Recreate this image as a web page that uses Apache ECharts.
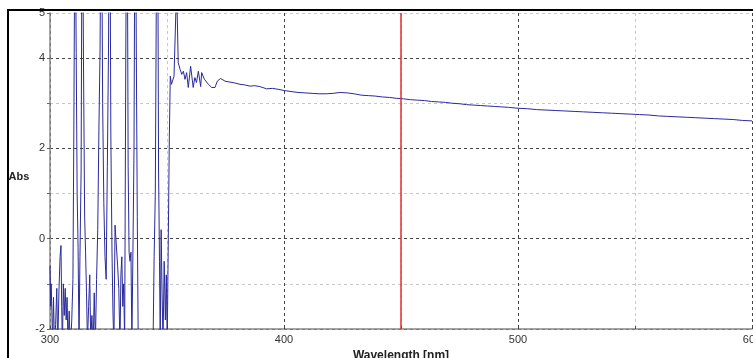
<!DOCTYPE html>
<html>
<head>
<meta charset="utf-8">
<script src="https://cdn.jsdelivr.net/npm/echarts@6/dist/echarts.min.js"></script>
<style>
  html, body { margin: 0; padding: 0; background: #fff; }
  #chart { width: 753px; height: 358px; }
</style>
</head>
<body>
<div id="chart"></div>
<script>
// Zona de ruido (300-351 nm): longitud de onda y absorbancia
const noiseWavelength = [
  300.0, 300.3, 300.5, 300.8, 301.1, 301.5, 301.9, 302.4, 302.9, 303.3,
  303.8, 304.3, 304.7, 305.0, 305.3, 305.7, 306.1, 306.5, 306.9, 307.3,
  307.7, 308.2, 308.7, 309.3, 309.8, 310.2, 310.7, 311.2, 311.6, 312.0,
  312.4, 312.8, 313.3, 313.8, 314.3, 314.8, 315.2, 315.6, 316.0, 316.5,
  317.0, 317.4, 317.9, 318.4, 318.9, 319.4, 319.9, 320.4, 320.9, 321.4,
  321.9, 322.5, 323.0, 323.5, 324.0, 324.5, 325.0, 325.5, 326.0, 326.5,
  326.9, 327.3, 327.8, 328.4, 328.9, 329.4, 329.9, 330.3, 330.7, 331.1,
  331.5, 331.9, 332.4, 332.9, 333.4, 333.8, 334.2, 334.6, 335.0, 335.5,
  335.9, 336.4, 336.9, 337.3, 337.7, 338.2, 340.0, 342.0, 344.0, 344.5,
  345.0, 345.4, 345.9, 346.4, 346.8, 347.1, 347.5, 347.9, 348.3, 348.8,
  349.3, 349.7, 350.1, 350.5
];
const noiseAbs = [
  -0.6, -1.5, -1.0, -1.6, -2.3, -1.3, -2.4, -1.9, -1.1, -2.4,
  -1.2, -0.4, -0.15, -1.5, -2.4, -1.0, -1.7, -1.1, -1.8, -1.3,
  -2.4, -1.6, -2.5, -1.8, -0.9, 2.5, 8.0, 4.1, 1.0, -0.2,
  -2.3, -0.4, 1.5, 9.0, 4.0, 0.5, -0.3, -1.2, -2.3, -1.5,
  -0.8, -2.3, -1.7, -2.5, -1.2, -2.3, -0.9, 0.2, 2.4, 4.2,
  9.0, 3.0, 0.8, -0.4, -0.9, 1.6, 4.2, 9.0, 2.3, -0.3,
  -1.6, -2.4, 0.3, 0.3, -0.6, -1.1, -2.4, -0.8, -0.4, -1.5,
  -1.0, -2.3, 4.2, 9.0, 1.6, -0.3, -0.5, -0.3, -2.3, 0.0,
  2.0, 9.0, 4.0, 0.5, -2.3, -3.0, -3.0, -3.0, -2.5, -0.4,
  1.0, 5.0, 9.0, 1.5, -0.5, -2.3, 0.2, -1.2, -2.3, -0.5,
  -1.8, -0.8, -2.3, -0.3
];
// Espectro (351-600 nm)
const specWavelength = [
  351.0, 351.4, 351.9, 353.0, 354.1, 354.8, 355.6, 356.3, 357.0, 357.7,
  358.4, 359.1, 360.1, 361.2, 361.9, 362.6, 363.4, 364.4, 364.8, 366.0,
  367.7, 369.1, 370.5, 371.5, 372.9, 374.8, 376.9, 379.0, 381.2, 383.0,
  385.5, 387.5, 389.7, 392.6, 395.0, 397.5, 400.4, 403.0, 406.0, 409.0,
  412.0, 415.0, 418.0, 421.0, 424.0, 427.0, 430.0, 433.0, 436.0, 439.0,
  442.0, 445.0, 448.0, 451.0, 454.0, 457.0, 460.0, 463.0, 466.0, 469.0,
  472.0, 475.0, 478.0, 481.0, 484.0, 487.0, 490.0, 493.0, 496.0, 500.0,
  504.0, 508.0, 512.0, 516.0, 520.0, 524.0, 528.0, 532.0, 536.0, 540.0,
  544.0, 548.0, 552.0, 556.0, 560.0, 564.0, 568.0, 572.0, 576.0, 580.0,
  584.0, 588.0, 592.0, 596.0, 600.0
];
const specAbs = [
  2.25, 3.6, 3.42, 3.6, 5.6, 3.9, 3.75, 3.64, 3.71, 3.53,
  3.68, 3.35, 3.82, 3.35, 3.57, 3.46, 3.71, 3.37, 3.68, 3.53,
  3.42, 3.35, 3.35, 3.49, 3.55, 3.49, 3.47, 3.45, 3.42, 3.41,
  3.38, 3.39, 3.37, 3.32, 3.33, 3.31, 3.28, 3.26, 3.24, 3.23,
  3.22, 3.21, 3.21, 3.22, 3.24, 3.23, 3.21, 3.18, 3.17, 3.16,
  3.14, 3.13, 3.11, 3.10, 3.08, 3.07, 3.06, 3.04, 3.03, 3.02,
  3.00, 2.99, 2.97, 2.96, 2.95, 2.94, 2.93, 2.92, 2.91, 2.89,
  2.88, 2.86, 2.85, 2.84, 2.83, 2.82, 2.81, 2.80, 2.79, 2.78,
  2.77, 2.76, 2.75, 2.74, 2.72, 2.71, 2.70, 2.69, 2.68, 2.67,
  2.66, 2.65, 2.64, 2.62, 2.61
];
// Línea roja de referencia
const markerWavelength = 450;

const wavelength = noiseWavelength.concat(specWavelength);
const absorbance = noiseAbs.concat(specAbs);

const chart = echarts.init(document.getElementById('chart'));

const option = {
    animation: false,
    backgroundColor: '#fff',
    grid: { left: 50, right: 1, top: 13, bottom: 29, outerBoundsMode: 'none' },
    xAxis: {
        type: 'value',
        min: 300,
        max: 600,
        interval: 50,
        name: 'Wavelength [nm]',
        nameLocation: 'middle',
        nameGap: 17,
        nameTextStyle: { fontFamily: 'Liberation Sans', fontWeight: 'bold', fontSize: 12, color: '#222' },
        axisLine: { onZero: false, lineStyle: { color: '#888', width: 1.5 } },
        axisTick: { show: true, inside: true, length: 3, lineStyle: { color: '#444' } },
        axisLabel: {
            fontFamily: 'Liberation Sans', fontSize: 11, color: '#333', margin: 5,
            formatter: v => (v % 100 === 0 ? String(v) : '')
        },
        splitLine: { show: true, lineStyle: { color: ['#444', '#c8c8c8'], type: [3, 3], width: 1 } }
    },
    yAxis: {
        type: 'value',
        min: -2,
        max: 5,
        interval: 1,
        name: 'Abs',
        nameLocation: 'middle',
        nameRotate: 0,
        nameGap: 13,
        nameTextStyle: { fontFamily: 'Liberation Sans', fontWeight: 'bold', fontSize: 11, color: '#222', verticalAlign: 'top' },
        axisLine: { show: true, onZero: false, lineStyle: { color: '#888', width: 1.5 } },
        axisTick: { show: true, length: 3, lineStyle: { color: '#666' } },
        axisLabel: {
            fontFamily: 'Liberation Sans', fontSize: 11, color: '#333', margin: 5,
            formatter: v => (v % 2 === 0 || v === 5 ? String(v) : '')
        },
        splitLine: { show: true, lineStyle: { color: ['#444', '#c8c8c8'], type: [3, 3], width: 1 } }
    },
    series: [
        {
            type: 'line',
            data: wavelength.map((w, i) => [w, absorbance[i]]),
            showSymbol: false,
            clip: true,
            lineStyle: { color: '#2a2a9c', width: 1 },
            markLine: {
                silent: true,
                symbol: 'none',
                label: { show: false },
                lineStyle: { color: '#e52b2b', type: 'solid', width: 1.5 },
                data: [{ xAxis: markerWavelength }]
            }
        }
    ],
    graphic: [
        { type: 'line', z: 100, shape: { x1: 7, y1: 10, x2: 753, y2: 10 }, style: { stroke: '#000', lineWidth: 2 } },
        { type: 'line', z: 100, shape: { x1: 8, y1: 10, x2: 8, y2: 358 }, style: { stroke: '#000', lineWidth: 2 } }
    ]
};

chart.setOption(option);
</script>
</body>
</html>
